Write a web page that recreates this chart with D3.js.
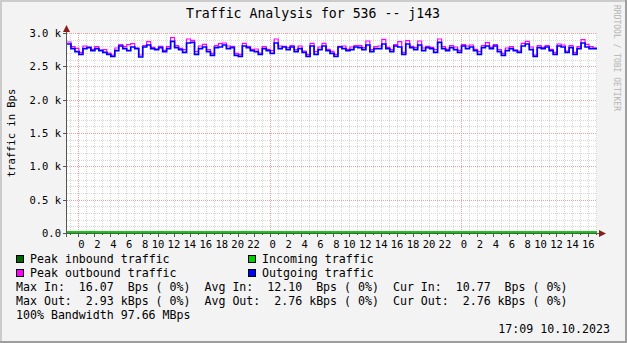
<!DOCTYPE html>
<html>
<head>
<meta charset="utf-8">
<script src="https://cdn.jsdelivr.net/npm/d3@7"></script>
<style>
  body { margin: 0; background: #f3f3f3; }
  svg text { font-family: "DejaVu Sans Mono", monospace; white-space: pre; }
</style>
</head>
<body>
<svg id="chart" width="627" height="343"></svg>
<script>
// 30 minute samples, starting 07.10.2023 22:35
var startTime = new Date(2023, 9, 7, 22, 35)
var stepMinutes = 30

var outgoing = [
  2835, 2765, 2720, 2680, 2765, 2780, 2735, 2765, 2735, 2710, 2680, 2650, 2735, 2805, 2765, 2735, 2790,
  2765, 2640, 2790, 2820, 2765, 2750, 2780, 2720, 2765, 2875, 2780, 2750, 2710, 2850, 2860, 2680,
  2765, 2790, 2720, 2665, 2780, 2790, 2820, 2765, 2780, 2665, 2650, 2805, 2780, 2735, 2720, 2680,
  2765, 2735, 2695, 2850, 2765, 2790, 2750, 2790, 2720, 2765, 2710, 2650, 2805, 2680, 2750, 2805, 2735,
  2695, 2650, 2790, 2765, 2735, 2750, 2790, 2780, 2750, 2820, 2720, 2765, 2765, 2835, 2765, 2720,
  2805, 2790, 2680, 2835, 2780, 2750, 2820, 2735, 2780, 2765, 2710, 2860, 2765, 2735, 2780, 2750, 2710,
  2805, 2765, 2790, 2735, 2680, 2780, 2805, 2765, 2805, 2720, 2665, 2735, 2765, 2735, 2710, 2805, 2835,
  2750, 2650, 2780, 2765, 2790, 2735, 2680, 2805, 2790, 2710, 2780, 2680, 2765, 2850, 2790, 2765, 2765
]
var peakOut = [
  2865, 2795, 2770, 2710, 2805, 2790, 2755, 2795, 2745, 2750, 2700, 2670, 2775, 2825, 2795, 2825, 2840,
  2775, 2670, 2810, 2870, 2785, 2760, 2800, 2740, 2795, 2930, 2810, 2770, 2750, 2910, 2890, 2720,
  2805, 2830, 2750, 2695, 2810, 2840, 2850, 2805, 2800, 2695, 2680, 2845, 2800, 2755, 2760, 2700,
  2795, 2755, 2735, 2910, 2805, 2800, 2780, 2810, 2750, 2805, 2730, 2680, 2845, 2720, 2790, 2845, 2755,
  2725, 2680, 2800, 2805, 2755, 2790, 2810, 2810, 2780, 2880, 2750, 2795, 2805, 2905, 2785, 2750,
  2825, 2870, 2710, 2885, 2800, 2780, 2880, 2775, 2800, 2785, 2750, 2910, 2795, 2755, 2810, 2790, 2740,
  2825, 2805, 2820, 2755, 2720, 2810, 2855, 2785, 2825, 2750, 2695, 2775, 2795, 2745, 2730, 2845, 2875,
  2790, 2670, 2810, 2785, 2810, 2755, 2710, 2835, 2820, 2730, 2810, 2710, 2795, 2900, 2830, 2795, 2775
]
var incoming = [
  12, 11, 13, 12, 10, 12, 14, 12, 11, 12, 13, 12, 11, 12, 12, 13, 12,
  11, 12, 13, 12, 12, 11, 14, 12, 12, 13, 12, 11, 12, 12, 13, 12,
  12, 11, 12, 13, 12, 12, 11, 12, 13, 12, 12, 14, 12, 11, 12, 12,
  13, 12, 11, 12, 12, 13, 12, 11, 12, 12, 13, 12, 12, 11, 12, 13, 12,
  12, 11, 12, 13, 12, 12, 12, 11, 13, 12, 12, 12, 11, 12, 13, 12,
  12, 11, 12, 12, 13, 12, 12, 11, 12, 13, 12, 12, 11, 12, 12, 13, 12,
  12, 11, 12, 13, 12, 12, 11, 12, 12, 13, 12, 11, 12, 12, 13, 12, 12,
  11, 12, 13, 12, 12, 11, 12, 12, 13, 12, 11, 12, 12, 13, 12, 11, 11
]
var peakIn = [
  14, 13, 15, 14, 12, 14, 16, 14, 13, 14, 15, 14, 13, 14, 14, 15, 14,
  13, 14, 15, 14, 14, 13, 16, 14, 14, 15, 14, 13, 14, 14, 15, 14,
  14, 13, 14, 15, 14, 14, 13, 14, 15, 14, 14, 16, 14, 13, 14, 14,
  15, 14, 13, 14, 14, 15, 14, 13, 14, 14, 15, 14, 14, 13, 14, 15, 14,
  14, 13, 14, 15, 14, 14, 14, 13, 15, 14, 14, 14, 13, 14, 15, 14,
  14, 13, 14, 14, 15, 14, 14, 13, 14, 15, 14, 14, 13, 14, 14, 15, 14,
  14, 13, 14, 15, 14, 14, 13, 14, 14, 15, 14, 13, 14, 14, 15, 14, 14,
  13, 14, 15, 14, 14, 13, 14, 14, 15, 14, 13, 14, 14, 15, 14, 13, 13
]

var yTicks = [0, 500, 1000, 1500, 2000, 2500, 3000]
var yTickLabels = ["0.0", "0.5 k", "1.0 k", "1.5 k", "2.0 k", "2.5 k", "3.0 k"]

var titleText = "Traffic Analysis for 536 -- j143"
var yAxisTitle = "traffic in Bps"
var legendItems = [
  {label: "Peak inbound traffic", color: "#006600", col: 0, row: 0},
  {label: "Incoming traffic", color: "#00cc00", col: 1, row: 0},
  {label: "Peak outbound traffic", color: "#ff00ff", col: 0, row: 1},
  {label: "Outgoing traffic", color: "#0000ff", col: 1, row: 1}
]
var statLines = [
  "Max In:  16.07  Bps ( 0%)  Avg In:  12.10  Bps ( 0%)  Cur In:  10.77  Bps ( 0%)",
  "Max Out:  2.93 kBps ( 0%)  Avg Out:  2.76 kBps ( 0%)  Cur Out:  2.76 kBps ( 0%)",
  "100% Bandwidth 97.66 MBps"
]
var stampText = "17:09 10.10.2023"
var watermark = "RRDTOOL / TOBI OETIKER"

var W = 627, H = 343
var plot = {left: 67, right: 597, top: 33, bottom: 233}

var svg = d3.select("#chart")

// canvas + 3d border
svg.append("rect").attr("width", W).attr("height", H).attr("fill", "#f3f3f3")
svg.append("path").attr("d", "M0,0H" + W + "V2H2V" + H + "H0Z").attr("fill", "#cbcbcb")
svg.append("path").attr("d", "M" + W + ",0V" + H + "H0V" + (H - 2) + "H" + (W - 2) + "V0Z").attr("fill", "#9e9e9e")

var times = outgoing.map(function(d, i) { return d3.timeMinute.offset(startTime, i * stepMinutes) })
var endTime = d3.timeMinute.offset(startTime, outgoing.length * stepMinutes)

var x = d3.scaleTime().domain([startTime, endTime]).range([plot.left, plot.right])
var y = d3.scaleLinear().domain([0, 3000]).range([plot.bottom, plot.top])

svg.append("rect")
    .attr("x", plot.left).attr("y", plot.top)
    .attr("width", plot.right - plot.left).attr("height", plot.bottom - plot.top)
    .attr("fill", "#ffffff")

// grid
var grid = svg.append("g").attr("shape-rendering", "crispEdges")
var hours = d3.timeHour.range(d3.timeHour.ceil(startTime), endTime)
grid.selectAll(".vminor")
    .data(hours.filter(function(d) { return d.getHours() !== 0 }))
    .enter().append("line")
    .attr("x1", function(d) { return Math.round(x(d)) + 0.5 })
    .attr("x2", function(d) { return Math.round(x(d)) + 0.5 })
    .attr("y1", plot.top).attr("y2", plot.bottom)
    .attr("stroke", "#d6d6d6").attr("stroke-dasharray", "1,1")
grid.selectAll(".hminor")
    .data(d3.range(100, 3001, 100).filter(function(d) { return d % 500 !== 0 }))
    .enter().append("line")
    .attr("x1", plot.left).attr("x2", plot.right)
    .attr("y1", function(d) { return Math.round(y(d)) + 0.5 })
    .attr("y2", function(d) { return Math.round(y(d)) + 0.5 })
    .attr("stroke", "#d6d6d6").attr("stroke-dasharray", "1,1")
grid.selectAll(".vmajor")
    .data(hours.filter(function(d) { return d.getHours() === 0 }))
    .enter().append("line")
    .attr("x1", function(d) { return Math.round(x(d)) + 0.5 })
    .attr("x2", function(d) { return Math.round(x(d)) + 0.5 })
    .attr("y1", plot.top).attr("y2", plot.bottom)
    .attr("stroke", "#e8a0a0").attr("stroke-dasharray", "1,1")
grid.selectAll(".hmajor")
    .data(yTicks.slice(1))
    .enter().append("line")
    .attr("x1", plot.left).attr("x2", plot.right)
    .attr("y1", function(d) { return Math.round(y(d)) + 0.5 })
    .attr("y2", function(d) { return Math.round(y(d)) + 0.5 })
    .attr("stroke", "#e8a0a0").attr("stroke-dasharray", "1,1")

// series
function seriesLine(vals) {
    var pts = vals.map(function(v, i) { return [times[i], v] })
    pts.push([endTime, vals[vals.length - 1]])
    return d3.line()
        .x(function(d) { return x(d[0]) })
        .y(function(d) { return y(d[1]) })
        .curve(d3.curveStepAfter)(pts)
}
svg.append("path").attr("d", seriesLine(peakOut)).attr("fill", "none").attr("stroke", "#ff00ff").attr("stroke-width", 1.2)
svg.append("path").attr("d", seriesLine(outgoing)).attr("fill", "none").attr("stroke", "#0000ff").attr("stroke-width", 1.7)
svg.append("path").attr("d", seriesLine(peakIn)).attr("fill", "none").attr("stroke", "#006600").attr("stroke-width", 1.2)
svg.append("path").attr("d", seriesLine(incoming)).attr("fill", "none").attr("stroke", "#00cc00").attr("stroke-width", 2)

// axes
var axisColor = "#555555", arrowColor = "#8b1c1c"
var ax = svg.append("g").attr("shape-rendering", "crispEdges")
ax.append("line").attr("x1", plot.left - 4).attr("x2", plot.right + 3)
    .attr("y1", plot.bottom + 0.5).attr("y2", plot.bottom + 0.5).attr("stroke", axisColor)
ax.append("line").attr("x1", plot.left - 0.5).attr("x2", plot.left - 0.5)
    .attr("y1", plot.bottom + 4).attr("y2", plot.top - 3).attr("stroke", axisColor)
ax.selectAll(".ytick").data(yTicks).enter().append("line")
    .attr("x1", plot.left - 4).attr("x2", plot.left)
    .attr("y1", function(d) { return Math.round(y(d)) + 0.5 })
    .attr("y2", function(d) { return Math.round(y(d)) + 0.5 })
    .attr("stroke", axisColor)
ax.selectAll(".xtick").data(hours).enter().append("line")
    .attr("x1", function(d) { return Math.round(x(d)) + 0.5 })
    .attr("x2", function(d) { return Math.round(x(d)) + 0.5 })
    .attr("y1", plot.bottom).attr("y2", function(d) { return d.getHours() % 2 === 0 ? plot.bottom + 4 : plot.bottom + 2 })
    .attr("stroke", axisColor)
svg.append("path")
    .attr("d", "M" + (plot.right + 2) + "," + (plot.bottom - 3) + "L" + (plot.right + 9) + "," + (plot.bottom + 0.5) + "L" + (plot.right + 2) + "," + (plot.bottom + 4) + "Z")
    .attr("fill", arrowColor)
svg.append("path")
    .attr("d", "M" + (plot.left - 4) + "," + (plot.top - 1) + "L" + (plot.left - 0.5) + "," + (plot.top - 8) + "L" + (plot.left + 3) + "," + (plot.top - 1) + "Z")
    .attr("fill", arrowColor)

// y labels
svg.selectAll(".ylab").data(yTicks).enter().append("text")
    .attr("x", plot.left - 6)
    .attr("y", function(d) { return y(d) + 4 })
    .attr("text-anchor", "end")
    .attr("font-size", "10.5px")
    .attr("fill", "#000")
    .text(function(d, i) { return yTickLabels[i] })

// x labels, every 2 hours, space padded like %k
svg.selectAll(".xlab").data(hours.filter(function(d) { return d.getHours() % 2 === 0 })).enter().append("text")
    .attr("x", function(d) { return x(d) })
    .attr("y", plot.bottom + 15)
    .attr("text-anchor", "middle")
    .attr("font-size", "10.5px")
    .attr("fill", "#000")
    .text(function(d) { var h = d.getHours(); return h < 10 ? " " + h : "" + h })

// title
svg.append("text").attr("x", 313).attr("y", 18).attr("text-anchor", "middle")
    .attr("font-size", "13.2px").attr("fill", "#000").text(titleText)

svg.append("text")
    .attr("transform", "translate(15," + ((plot.top + plot.bottom) / 2) + ") rotate(-90)")
    .attr("text-anchor", "middle").attr("font-size", "10.5px").attr("fill", "#000")
    .text(yAxisTitle)

svg.append("text")
    .attr("transform", "translate(614,5) rotate(90)")
    .attr("text-anchor", "start").attr("font-size", "8px").attr("fill", "#b4b4b4")
    .text(watermark)

// legend
var leg = svg.selectAll(".leg").data(legendItems).enter().append("g")
    .attr("transform", function(d) { return "translate(" + (d.col === 0 ? 16 : 248) + "," + (255 + d.row * 14) + ")" })
leg.append("rect").attr("x", 0.5).attr("y", 0.5).attr("width", 7).attr("height", 7)
    .attr("fill", function(d) { return d.color }).attr("stroke", "#000")
leg.append("text").attr("x", 14).attr("y", 8).attr("font-size", "11.6px").attr("fill", "#000")
    .text(function(d) { return d.label })

svg.selectAll(".stat").data(statLines).enter().append("text")
    .attr("x", 16).attr("y", function(d, i) { return 291 + i * 14 })
    .attr("font-size", "11.6px").attr("fill", "#000")
    .text(function(d) { return d })

svg.append("text").attr("x", 610).attr("y", 333).attr("text-anchor", "end")
    .attr("font-size", "11.6px").attr("fill", "#000").text(stampText)
</script>
</body>
</html>
